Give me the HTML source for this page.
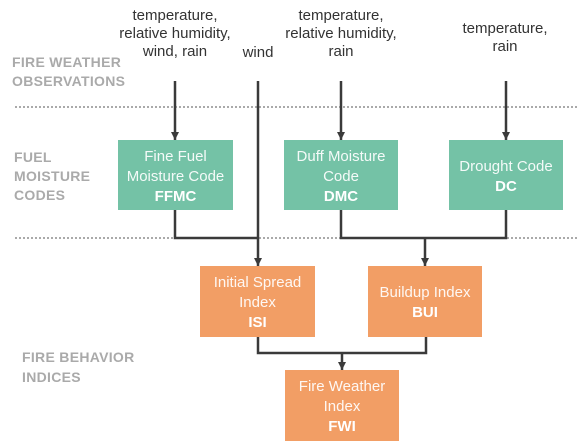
<!DOCTYPE html>
<html><head><meta charset="utf-8"><style>
html,body{margin:0;padding:0;background:#fff;width:577px;height:446px;overflow:hidden}
svg{display:block}
.obs{font-family:"Liberation Sans",sans-serif;font-size:15px;fill:#333;text-anchor:middle}
.lab{font-family:"Liberation Sans",sans-serif;font-size:14px;font-weight:bold;fill:#aaa;letter-spacing:0.3px}
.bx{font-family:"Liberation Sans",sans-serif;font-size:15px;fill:#fff;text-anchor:middle;fill-opacity:0.92}
.bb{font-weight:bold;fill-opacity:1}
</style></head><body>
<svg width="577" height="446" viewBox="0 0 577 446" xmlns="http://www.w3.org/2000/svg">
<defs><marker id="a" markerWidth="8" markerHeight="8" refX="8" refY="4" orient="auto" markerUnits="userSpaceOnUse">
<path d="M0,0 L8,4 L0,8 z" fill="#3a3a3a"/></marker></defs>
<line x1="15" y1="107" x2="577" y2="107" stroke="#aaa" stroke-width="2" stroke-dasharray="2,2"/>
<line x1="15" y1="238" x2="577" y2="238" stroke="#aaa" stroke-width="2" stroke-dasharray="2,2"/>
<text class="obs" x="175" y="20">temperature,</text>
<text class="obs" x="175" y="38">relative humidity,</text>
<text class="obs" x="175" y="56">wind, rain</text>
<text class="obs" x="258" y="57">wind</text>
<text class="obs" x="341" y="20">temperature,</text>
<text class="obs" x="341" y="38">relative humidity,</text>
<text class="obs" x="341" y="56">rain</text>
<text class="obs" x="505" y="33">temperature,</text>
<text class="obs" x="505" y="51">rain</text>
<text class="lab" x="12" y="67">FIRE WEATHER</text>
<text class="lab" x="12" y="86">OBSERVATIONS</text>
<text class="lab" x="14" y="162">FUEL</text>
<text class="lab" x="14" y="181">MOISTURE</text>
<text class="lab" x="14" y="200">CODES</text>
<text class="lab" x="22" y="362">FIRE BEHAVIOR</text>
<text class="lab" x="22" y="382">INDICES</text>
<g stroke="#3a3a3a" stroke-width="2.5" fill="none">
<line x1="175" y1="81" x2="175" y2="140" marker-end="url(#a)"/>
<line x1="341" y1="81" x2="341" y2="140" marker-end="url(#a)"/>
<line x1="506" y1="81" x2="506" y2="140" marker-end="url(#a)"/>
<line x1="258" y1="81" x2="258" y2="266" marker-end="url(#a)"/>
<polyline points="175,210 175,238 258,238"/>
<polyline points="341,210 341,238 506,238 506,210"/>
<line x1="425" y1="238" x2="425" y2="266" marker-end="url(#a)"/>
<polyline points="258,337 258,353 426,353 426,337"/>
<line x1="342" y1="353" x2="342" y2="370" marker-end="url(#a)"/>
</g>
<rect x="118" y="140" width="115" height="70" fill="#74c2a6"/>
<rect x="284" y="140" width="114" height="70" fill="#74c2a6"/>
<rect x="449" y="140" width="114" height="70" fill="#74c2a6"/>
<rect x="200" y="266" width="115" height="71" fill="#f29e65"/>
<rect x="368" y="266" width="114" height="71" fill="#f29e65"/>
<rect x="285" y="370" width="114" height="71" fill="#f29e65"/>
<text class="bx" x="175.5" y="161">Fine Fuel</text>
<text class="bx" x="175.5" y="181">Moisture Code</text>
<text class="bx bb" x="175.5" y="201">FFMC</text>
<text class="bx" x="341" y="161">Duff Moisture</text>
<text class="bx" x="341" y="181">Code</text>
<text class="bx bb" x="341" y="201">DMC</text>
<text class="bx" x="506" y="171">Drought Code</text>
<text class="bx bb" x="506" y="191">DC</text>
<text class="bx" x="257.5" y="287">Initial Spread</text>
<text class="bx" x="257.5" y="307">Index</text>
<text class="bx bb" x="257.5" y="327">ISI</text>
<text class="bx" x="425" y="297">Buildup Index</text>
<text class="bx bb" x="425" y="317">BUI</text>
<text class="bx" x="342" y="391">Fire Weather</text>
<text class="bx" x="342" y="411">Index</text>
<text class="bx bb" x="342" y="431">FWI</text>
</svg>
</body></html>
